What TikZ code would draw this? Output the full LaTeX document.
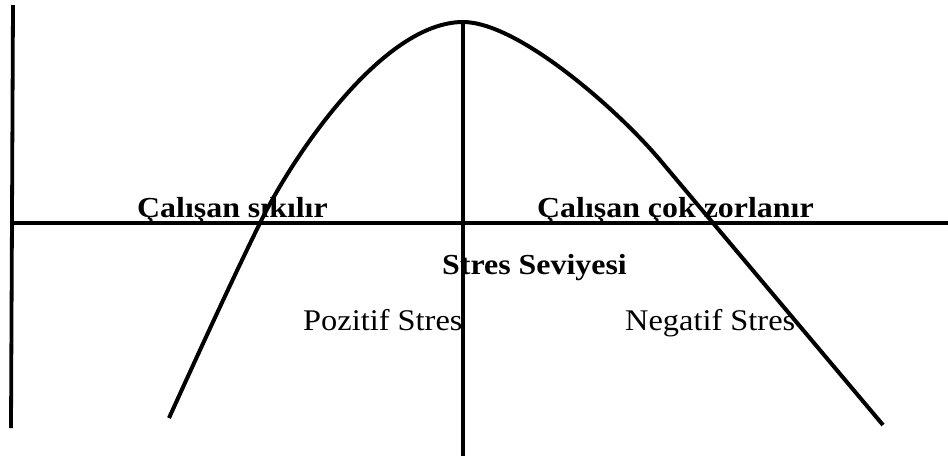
\documentclass[tikz,border=0pt]{standalone}
\usepackage{fontspec}
\setmainfont{Liberation Serif}
\begin{document}
\begin{tikzpicture}[x=1pt,y=-1pt,
  axis/.style={line width=3.8pt},
  curveline/.style={line width=4pt,line cap=butt,line join=round},
  boldlbl/.style={inner sep=0pt,anchor=base west,font=\fontsize{29}{31}\selectfont\bfseries},
  reglbl/.style={inner sep=0pt,anchor=base west,font=\fontsize{30}{32}\selectfont}]
\useasboundingbox (0,0) rectangle (948,459);
% axes
\coordinate (ltop) at (13,5);
\coordinate (lbot) at (11,428);
\coordinate (hleft) at (11,223);
\coordinate (hright) at (948,223);
\coordinate (mtop) at (463,20);
\coordinate (mbot) at (463,456);
\draw[axis] (ltop) -- (lbot);
\draw[axis] (hleft) -- (hright);
\draw[axis] (mtop) -- (mbot);
% curve
\coordinate (cstart) at (169,418);
\coordinate (cleft) at (260,223);
\coordinate (cpeak) at (463,22);
\coordinate (cright) at (660,160);
\coordinate (cend) at (883,425);
\draw[curveline] (cstart) .. controls (199,352) and (231,282) .. (cleft)
  .. controls (293,155.5) and (383,22) .. (cpeak)
  .. controls (518,22) and (617.6,109.6) .. (cright)
  -- (cend);
% labels
\node[boldlbl] (sik) at (137,217) {\scalebox{1.1}[1]{Çalışan sıkılır}};
\node[boldlbl] (zor) at (537,217) {\scalebox{1.1}[1]{Çalışan çok zorlanır}};
\node[boldlbl] (sev) at (442,274) {\scalebox{1.1}[1]{Stres Seviyesi}};
\node[reglbl] (poz) at (303,330) {\scalebox{1.08}[1]{Pozitif Stres}};
\node[reglbl] (neg) at (625,330) {\scalebox{1.08}[1]{Negatif Stres}};
\end{tikzpicture}
\end{document}
